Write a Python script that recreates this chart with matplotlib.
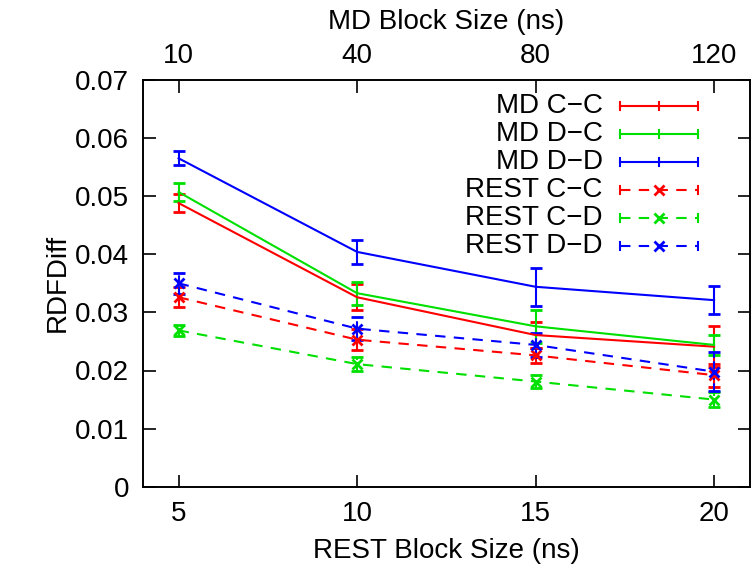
import matplotlib
matplotlib.use("Agg")
import matplotlib.pyplot as plt
import numpy as np

plt.rcParams['font.family'] = ['Liberation Sans', 'DejaVu Sans']

# block sizes (ns)
rest_sizes = [5, 10, 15, 20]
md_sizes = [10, 40, 80, 120]

# RDFDiff values and error bars
labels = ["MD C\u2212C", "MD D\u2212C", "MD D\u2212D",
          "REST C\u2212C", "REST C\u2212D", "REST D\u2212D"]
md_cc = [0.0488, 0.0326, 0.0261, 0.0241]
md_cc_err = [0.0016, 0.0022, 0.0022, 0.0035]
md_dc = [0.0507, 0.0333, 0.0276, 0.0244]
md_dc_err = [0.0015, 0.0020, 0.0028, 0.0017]
md_dd = [0.0565, 0.0404, 0.0344, 0.0321]
md_dd_err = [0.0012, 0.0020, 0.0033, 0.0024]
rest_cc = [0.0326, 0.0253, 0.0226, 0.0192]
rest_cc_err = [0.0017, 0.0018, 0.0013, 0.0020]
rest_cd = [0.0269, 0.0211, 0.0181, 0.0150]
rest_cd_err = [0.0010, 0.0012, 0.0011, 0.0013]
rest_dd = [0.0350, 0.0272, 0.0244, 0.0198]
rest_dd_err = [0.0018, 0.0020, 0.0020, 0.0033]

series = [md_cc, md_dc, md_dd, rest_cc, rest_cd, rest_dd]
errors = [md_cc_err, md_dc_err, md_dd_err, rest_cc_err, rest_cd_err, rest_dd_err]
colors = ['#ff0000', '#00e000', '#0000ff', '#ff0000', '#00e000', '#0000ff']
dashed = [False, False, False, True, True, True]

FS = 20
LW = 1.5
dash = (0, (5, 4))

fig = plt.figure(figsize=(7.52, 5.70), dpi=100)
ax = fig.add_axes([0.190, 0.146, 0.807, 0.714])

for vals, err, c, d in zip(series, errors, colors, dashed):
    ls = dash if d else '-'
    mk = 'x' if d else None
    eb = ax.errorbar(rest_sizes, vals, yerr=err, color=c, lw=LW, ls=ls,
                     marker=mk, ms=7, mew=2, capsize=4, capthick=LW,
                     elinewidth=LW)
    if d:
        for lc in eb[2]:
            lc.set_linestyle('--')

# gnuplot-style key, drawn by hand
row0, step = 0.936, 0.0688
tx, x0, x1 = 0.758, 0.787, 0.914
for i, (lab, c, d) in enumerate(zip(labels, colors, dashed)):
    y = row0 - i * step
    ax.text(tx, y, lab, transform=ax.transAxes, ha='right', va='center',
            fontsize=FS)
    ls = dash if d else '-'
    ax.plot([x0, x1], [y, y], transform=ax.transAxes, color=c, lw=LW, ls=ls)
    for xe in (x0, x1):
        ax.plot([xe, xe], [y - 0.01, y + 0.01], transform=ax.transAxes,
                color=c, lw=LW)
    xm = (x0 + x1) / 2
    if d:
        ax.plot([xm], [y], transform=ax.transAxes, color=c, marker='x',
                ms=7, mew=2)
    else:
        ax.plot([xm, xm], [y - 0.01, y + 0.01], transform=ax.transAxes,
                color=c, lw=LW)

ax.set_xlim(4, 21)
ax.set_ylim(0, 0.07)
ax.set_xticks(rest_sizes)
ax.set_yticks(np.arange(0, 0.0701, 0.01))
ax.set_yticklabels(['0'] + ['%.2f' % v for v in np.arange(0.01, 0.0701, 0.01)])
ax.tick_params(direction='in', length=9, width=1.2, labelsize=FS,
               right=True, pad=10)
ax.set_xlabel('REST Block Size (ns)', fontsize=FS, labelpad=8)
ax.set_ylabel('RDFDiff', fontsize=FS, labelpad=3)

top = ax.twiny()
top.set_xlim(ax.get_xlim())
top.set_xticks(rest_sizes)
top.set_xticklabels([str(m) for m in md_sizes])
top.tick_params(direction='in', length=9, width=1.2, labelsize=FS, pad=8)
top.set_xlabel('MD Block Size (ns)', fontsize=FS, labelpad=10)

for a in (ax, top):
    for s in a.spines.values():
        s.set_linewidth(1.2)

fig.savefig('out.png', dpi=100)
